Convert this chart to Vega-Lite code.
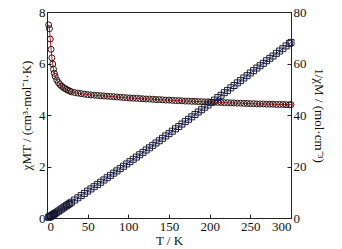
{
  "$schema": "https://vega.github.io/schema/vega-lite/v6.json",
  "width": 244,
  "height": 206,
  "autosize": "none",
  "padding": {"left": 47, "top": 12, "right": 51, "bottom": 31},
  "background": "white",
  "config": {
    "font": "Liberation Serif",
    "view": {"stroke": "#222", "strokeWidth": 1},
    "axis": {
      "grid": false,
      "domainColor": "#222",
      "tickColor": "#222",
      "labelColor": "#111",
      "titleColor": "#111",
      "labelFontSize": 13,
      "titleFontSize": 13,
      "titleFontWeight": "normal",
      "labelFont": "Liberation Serif",
      "titleFont": "Liberation Serif",
      "tickSize": -4,
      "labelPadding": 6
    }
  },
  "data": {"values": [
    {"T":2,"c":7.50,"inv":0.27},{"T":3,"c":7.35,"inv":0.41},{"T":4,"c":6.95,"inv":0.58},{"T":5,"c":6.55,"inv":0.76},
    {"T":6,"c":6.22,"inv":0.96},{"T":7,"c":5.98,"inv":1.17},{"T":8,"c":5.78,"inv":1.38},{"T":9,"c":5.62,"inv":1.60},
    {"T":10,"c":5.50,"inv":1.82},{"T":12,"c":5.36,"inv":2.24},{"T":14,"c":5.26,"inv":2.66},{"T":16,"c":5.18,"inv":3.09},
    {"T":18,"c":5.12,"inv":3.52},{"T":20,"c":5.07,"inv":3.94},{"T":22,"c":5.03,"inv":4.37},{"T":24,"c":4.99,"inv":4.81},
    {"T":26,"c":4.96,"inv":5.24},{"T":28,"c":4.93,"inv":5.68},{"T":30,"c":4.90,"inv":6.12},{"T":34,"c":4.87,"inv":6.98},
    {"T":38,"c":4.85,"inv":7.84},{"T":42,"c":4.83,"inv":8.70},{"T":46,"c":4.81,"inv":9.56},{"T":50,"c":4.79,"inv":10.44},
    {"T":54,"c":4.78,"inv":11.30},{"T":58,"c":4.77,"inv":12.16},{"T":62,"c":4.76,"inv":13.03},{"T":66,"c":4.75,"inv":13.89},
    {"T":70,"c":4.74,"inv":14.77},{"T":74,"c":4.73,"inv":15.64},{"T":78,"c":4.72,"inv":16.53},{"T":82,"c":4.71,"inv":17.41},
    {"T":86,"c":4.70,"inv":18.30},{"T":90,"c":4.69,"inv":19.19},{"T":94,"c":4.68,"inv":20.09},{"T":98,"c":4.67,"inv":20.99},
    {"T":102,"c":4.66,"inv":21.89},{"T":106,"c":4.65,"inv":22.80},{"T":110,"c":4.65,"inv":23.66},{"T":114,"c":4.64,"inv":24.57},
    {"T":118,"c":4.63,"inv":25.49},{"T":122,"c":4.62,"inv":26.41},{"T":126,"c":4.62,"inv":27.27},{"T":130,"c":4.61,"inv":28.20},
    {"T":134,"c":4.60,"inv":29.13},{"T":138,"c":4.60,"inv":30.00},{"T":142,"c":4.59,"inv":30.94},{"T":146,"c":4.58,"inv":31.88},
    {"T":150,"c":4.58,"inv":32.75},{"T":154,"c":4.57,"inv":33.70},{"T":158,"c":4.56,"inv":34.65},{"T":162,"c":4.56,"inv":35.53},
    {"T":166,"c":4.55,"inv":36.48},{"T":170,"c":4.54,"inv":37.44},{"T":174,"c":4.54,"inv":38.33},{"T":178,"c":4.53,"inv":39.29},
    {"T":182,"c":4.53,"inv":40.18},{"T":186,"c":4.52,"inv":41.15},{"T":190,"c":4.52,"inv":42.04},{"T":194,"c":4.51,"inv":43.02},
    {"T":198,"c":4.51,"inv":43.90},{"T":202,"c":4.50,"inv":44.89},{"T":206,"c":4.50,"inv":45.78},{"T":210,"c":4.49,"inv":46.77},
    {"T":214,"c":4.49,"inv":47.66},{"T":218,"c":4.48,"inv":48.66},{"T":222,"c":4.48,"inv":49.55},{"T":226,"c":4.47,"inv":50.56},
    {"T":230,"c":4.47,"inv":51.45},{"T":234,"c":4.46,"inv":52.47},{"T":238,"c":4.46,"inv":53.36},{"T":242,"c":4.45,"inv":54.38},
    {"T":246,"c":4.45,"inv":55.28},{"T":250,"c":4.44,"inv":56.31},{"T":254,"c":4.44,"inv":57.21},{"T":258,"c":4.43,"inv":58.24},
    {"T":262,"c":4.43,"inv":59.14},{"T":266,"c":4.43,"inv":60.05},{"T":270,"c":4.42,"inv":61.09},{"T":274,"c":4.42,"inv":61.99},
    {"T":278,"c":4.42,"inv":62.90},{"T":282,"c":4.41,"inv":63.95},{"T":286,"c":4.41,"inv":64.85},{"T":290,"c":4.41,"inv":65.76},
    {"T":294,"c":4.40,"inv":66.82},{"T":298,"c":4.40,"inv":67.73},{"T":300,"c":4.40,"inv":68.18}
  ]},
  "encoding": {
    "x": {"field": "T", "type": "quantitative",
      "scale": {"domain": [0, 300], "nice": false},
      "axis": {"title": "T / K", "values": [0,50,100,150,200,250,300], "titlePadding": 1, "labelPadding": 6}}
  },
  "layer": [
    {
      "encoding": {
        "y": {"field": "c", "type": "quantitative",
          "scale": {"domain": [0, 8], "nice": false},
          "axis": {"title": "χMT / (cm³·mol⁻¹·K)", "values": [0,2,4,6,8], "titlePadding": 5}}
      },
      "layer": [
        {"mark": {"type": "line", "color": "#d02020", "strokeWidth": 1}},
        {"mark": {"type": "point", "shape": "circle", "filled": false, "size": 36, "stroke": "#2a0e0e", "strokeWidth": 1, "opacity": 0.95}}
      ]
    },
    {
      "encoding": {
        "y": {"field": "inv", "type": "quantitative",
          "scale": {"domain": [0, 80], "nice": false},
          "axis": {"orient": "right", "title": "1/χM / (mol·cm⁻³)", "values": [0,20,40,60,80], "titlePadding": 5}}
      },
      "layer": [
        {"mark": {"type": "line", "color": "#2040c0", "strokeWidth": 1}},
        {"mark": {"type": "point", "shape": "square", "filled": false, "size": 36, "stroke": "#14142e", "strokeWidth": 1, "opacity": 0.95}}
      ]
    }
  ],
  "resolve": {"scale": {"y": "independent"}}
}
